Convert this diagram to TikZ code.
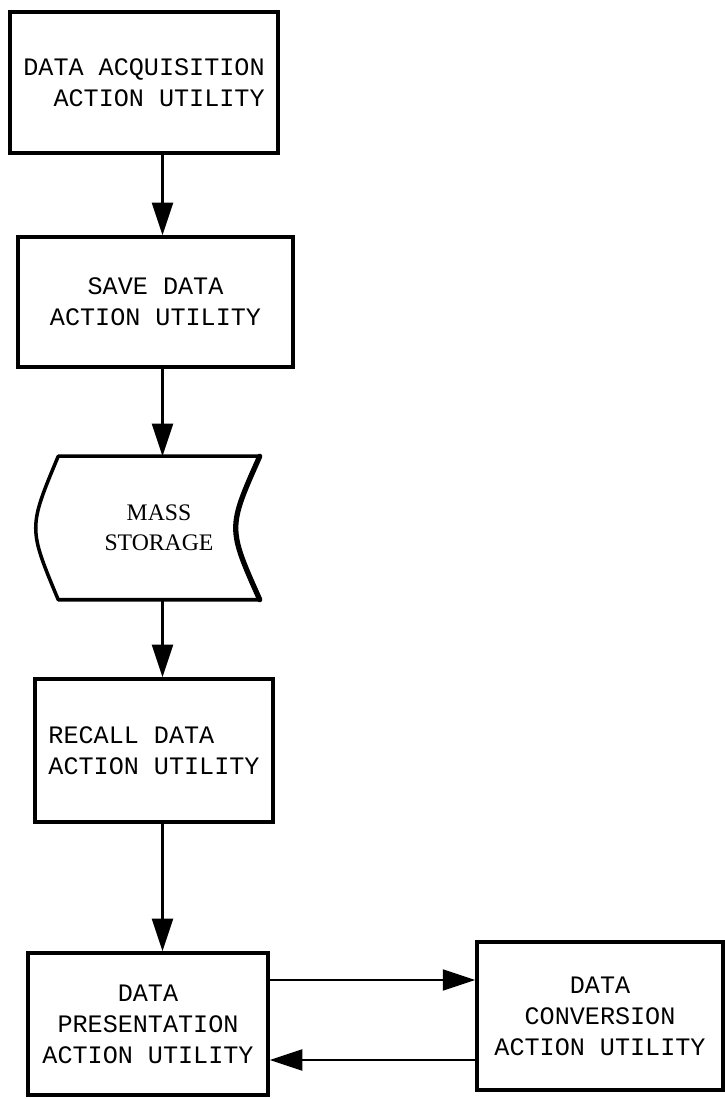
\documentclass[tikz,border=0pt]{standalone}
\usepackage{fontspec}
\usetikzlibrary{arrows.meta}
\newfontfamily\typefont{Liberation Mono}
\newfontfamily\bookfont{Liberation Serif}

\begin{document}
\begin{tikzpicture}
		[every node/.style={rectangle,draw,line width=2pt,align=center,font=\typefont\fontsize{14.3}{17.6}\selectfont},
		flow/.style={line width=1.3pt,-{Triangle[length=6.5mm,width=4.2mm]}}]
		\useasboundingbox (0,0) rectangle (14.5,21.98);
		\coordinate (spine) at (3.25,0);
		\node [minimum width=5.36cm,minimum height=2.82cm,align=right](acq) at (2.88,20.33) {DATA ACQUISITION\\ACTION UTILITY};
		\node [minimum width=5.50cm,minimum height=2.60cm](save) at (3.11,15.94) {SAVE DATA\\ACTION UTILITY};
		\node [draw=none,minimum width=3.96cm,minimum height=2.80cm,font=\bookfont\fontsize{13.5}{17}\selectfont](store) at (3.18,11.42) {MASS\\STORAGE};
		\node [minimum width=4.76cm,minimum height=2.86cm,align=left](recall) at (3.08,6.97) {RECALL DATA\\ACTION UTILITY};
		\node [minimum width=4.80cm,minimum height=2.84cm](pres) at (2.96,1.50) {DATA\\PRESENTATION\\ACTION UTILITY};
		\node [minimum width=4.92cm,minimum height=2.96cm](conv) at (12.00,1.66) {DATA\\CONVERSION\\ACTION UTILITY};
		% storage outline
		\draw [line width=2pt,line join=round] (store.south east) -- (store.south west)
			.. controls ([xshift=-6mm]store.west) .. (store.north west) -- (store.north east);
		\draw [line width=3pt,line cap=round] (store.north east)
			.. controls ([xshift=-6.4mm]store.east) .. (store.south east);
		% flow
		\draw [flow] (acq.south -| spine) -- (save.north -| spine);
		\draw [flow] (save.south -| spine) -- (store.north -| spine);
		\draw [flow] (store.south -| spine) -- (recall.north -| spine);
		\draw [flow] (recall.south -| spine) -- (pres.north -| spine);
		\draw [flow] ([yshift=8.8mm]pres.east) -- ([yshift=8.8mm]pres.east -| conv.west);
		\draw [flow] ([yshift=-8.8mm]conv.west) -- ([yshift=-8.8mm]conv.west -| pres.east);
	\end{tikzpicture}
\end{document}
